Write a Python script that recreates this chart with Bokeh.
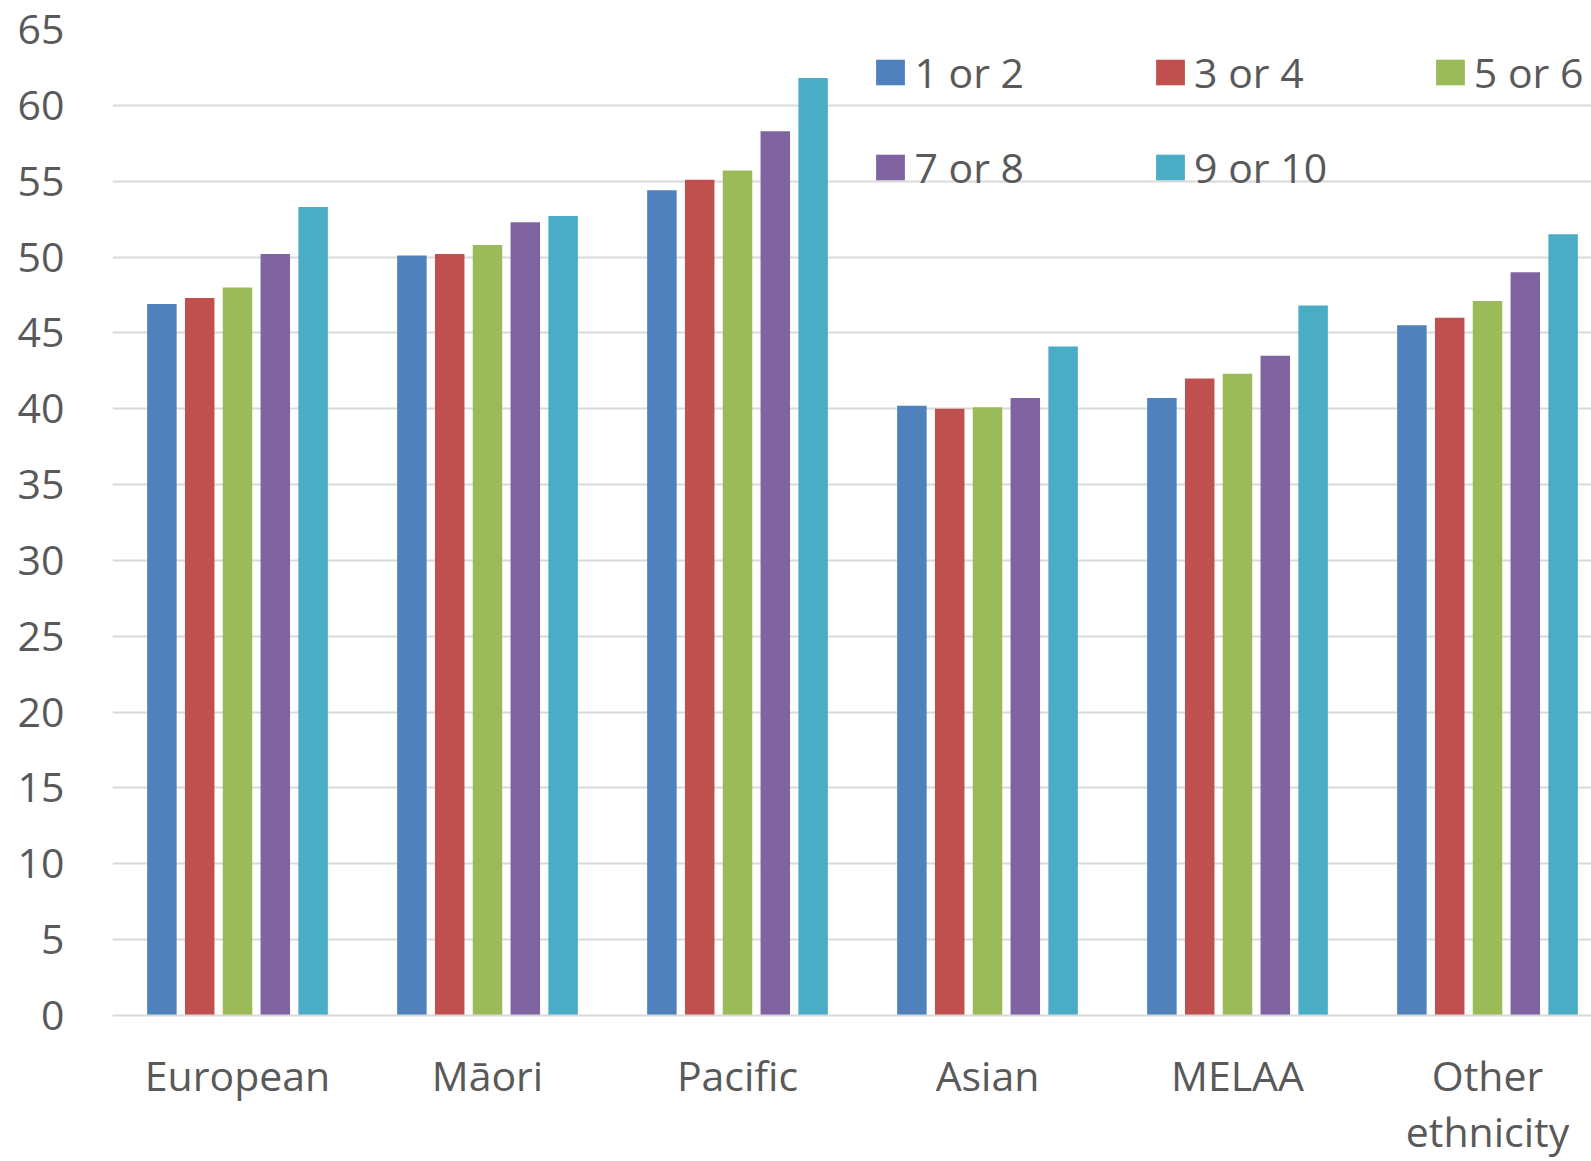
from bokeh.plotting import figure
from bokeh.models import ColumnDataSource, Range1d, FixedTicker, Legend, LegendItem
from bokeh.transform import dodge
from bokeh.embed import file_html
from bokeh.resources import INLINE

groups = ["European", "Māori", "Pacific", "Asian", "MELAA", "Other\nethnicity"]
series_names = ["1 or 2", "3 or 4", "5 or 6", "7 or 8", "9 or 10"]
s_1_2 = [46.9, 50.1, 54.4, 40.2, 40.7, 45.5]
s_3_4 = [47.3, 50.2, 55.1, 40.0, 42.0, 46.0]
s_5_6 = [48.0, 50.8, 55.7, 40.1, 42.3, 47.1]
s_7_8 = [50.2, 52.3, 58.3, 40.7, 43.5, 49.0]
s_9_10 = [53.3, 52.7, 61.8, 44.1, 46.8, 51.5]
y_ticks = list(range(0, 70, 5))
colors = ["#4F81BD", "#C0504D", "#9BBB59", "#8064A2", "#4BACC6"]

cols = ["s12", "s34", "s56", "s78", "s910"]
xs = [i + 0.5 for i in range(len(groups))]
source = ColumnDataSource(dict(x=xs, s12=s_1_2, s34=s_3_4, s56=s_5_6, s78=s_7_8, s910=s_9_10))

FONT = "Open Sans"
FS = "41px"
TXT = "#595959"
GRID = "#D9D9D9"

p = figure(width=1591, height=1161, output_backend="svg", toolbar_location=None,
           x_range=Range1d(0, 5.916), y_range=Range1d(0, 65),
           min_border_left=112, min_border_right=0, min_border_top=29, min_border_bottom=146)
p.outline_line_color = None
p.background_fill_color = "white"
p.border_fill_color = "white"

step = 0.1512
bar_w = 0.118
renderers = []
for k, (c, col) in enumerate(zip(colors, cols)):
    r = p.vbar(x=dodge("x", (k - 2) * step), top=col, bottom=0, width=bar_w,
               source=source, fill_color=c, line_color=None)
    renderers.append(r)

# axes
p.xaxis.ticker = FixedTicker(ticks=xs)
p.xaxis.major_label_overrides = {x: g for x, g in zip(xs, groups)}
p.xaxis.major_tick_line_color = None
p.xaxis.minor_tick_line_color = None
p.xaxis.axis_line_color = GRID
p.xaxis.axis_line_width = 2
p.xaxis.major_label_standoff = 25
p.xaxis.major_label_text_font = FONT
p.xaxis.major_label_text_font_size = FS
p.xaxis.major_label_text_color = TXT
p.xaxis.major_label_text_line_height = 1.0

p.yaxis.ticker = FixedTicker(ticks=y_ticks)
p.yaxis.axis_line_color = None
p.yaxis.major_tick_line_color = None
p.yaxis.minor_tick_line_color = None
p.yaxis.major_label_standoff = 42
p.yaxis.major_label_text_font = FONT
p.yaxis.major_label_text_font_size = FS
p.yaxis.major_label_text_color = TXT

p.xgrid.grid_line_color = None
p.ygrid.ticker = FixedTicker(ticks=y_ticks)
p.ygrid.grid_line_color = GRID
p.ygrid.grid_line_width = 2

# legend: 3 columns x 2 rows
leg_pos = [(760.4, 915.0), (1040.1, 915.0), (1319.8, 915.0), (760.4, 820.5), (1040.1, 820.5)]
for name, r, loc in zip(series_names, renderers, leg_pos):
    leg = Legend(items=[LegendItem(label=name, renderers=[r])], location=loc,
                 orientation="horizontal", padding=0, margin=0, spacing=0,
                 glyph_width=36, glyph_height=32, label_height=26, label_standoff=6,
                 label_text_font=FONT, label_text_font_size=FS, label_text_color=TXT,
                 background_fill_alpha=0, border_line_alpha=0)
    p.add_layout(leg, "center")

open("out.html", "w").write(file_html(p, INLINE))
